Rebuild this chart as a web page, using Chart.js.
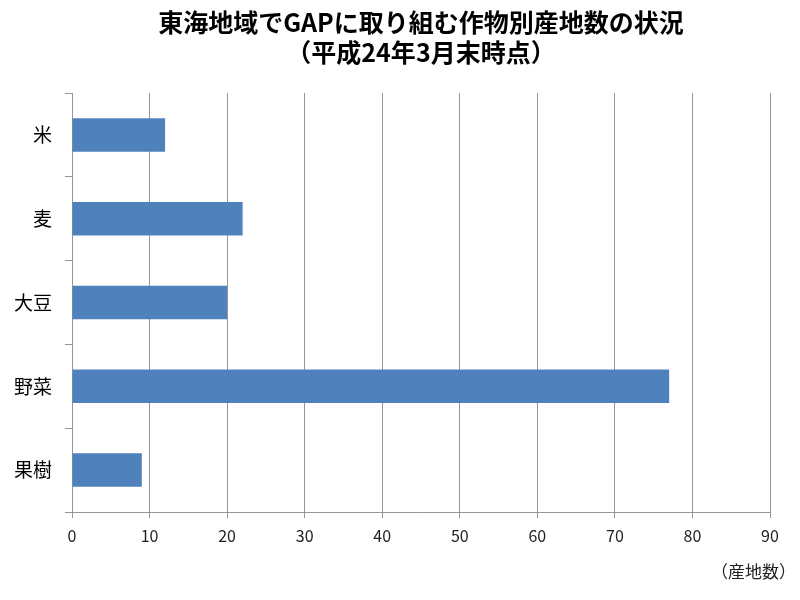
<!DOCTYPE html>
<html>
<head>
<meta charset="utf-8">
<script src="https://cdn.jsdelivr.net/npm/chart.js@4"></script>
<style>
  html, body { margin: 0; padding: 0; background: #fff; }
  #wrap { width: 800px; height: 600px; }
</style>
</head>
<body>
<div id="wrap"><canvas id="gapChart"></canvas></div>
<script>
// 作物別産地数 (平成24年3月末時点)
const crops = ['米', '麦', '大豆', '野菜', '果樹'];
const areaCounts = [12, 22, 20, 77, 9];
const titleLines = ['東海地域でGAPに取り組む作物別産地数の状況', '（平成24年3月末時点）'];
const unitLabel = '（産地数）';

const jpFont = '"Noto Sans CJK JP", "Noto Sans", sans-serif';

// unit label under the x axis, bottom right
const unitPlugin = {
    id: 'unitLabel',
    afterDraw(chart) {
        const c = chart.ctx;
        c.save();
        c.font = '17px ' + jpFont;
        c.fillStyle = '#222';
        c.textAlign = 'right';
        c.textBaseline = 'middle';
        c.fillText(unitLabel, chart.width - 4, 572);
        c.restore();
    }
};

const ctx = document.getElementById('gapChart').getContext('2d');
const gapChart = new Chart(ctx, {
    type: 'bar',
    data: {
        labels: crops,
        datasets: [{
            data: areaCounts,
            backgroundColor: '#4F81BD',
            borderWidth: 0,
            categoryPercentage: 1,
            barPercentage: 0.4
        }]
    },
    options: {
        indexAxis: 'y',
        responsive: true,
        maintainAspectRatio: false,
        animation: false,
        layout: { padding: { left: 0, right: 30, top: 0, bottom: 0 } },
        plugins: {
            legend: { display: false },
            tooltip: { enabled: false },
            title: {
                display: true,
                fullSize: false,
                text: titleLines,
                color: '#000',
                font: { family: jpFont, size: 25, weight: 'bold', lineHeight: 1.2 },
                padding: { top: 7, bottom: 26 }
            }
        },
        scales: {
            x: {
                min: 0, max: 90,
                ticks: {
                    stepSize: 10,
                    color: '#222',
                    padding: 8,
                    font: { family: jpFont, size: 16 }
                },
                grid: {
                    color: '#969696',
                    lineWidth: 1,
                    tickLength: 6
                },
                border: { display: true, color: '#969696' },
                afterFit(scale) { scale.height = 88; }
            },
            y: {
                ticks: {
                    color: '#000',
                    padding: 13,
                    font: { family: jpFont, size: 19 }
                },
                grid: {
                    color: '#969696',
                    drawOnChartArea: false,
                    tickLength: 7,
                    offset: true
                },
                border: { display: true, color: '#969696' },
                afterFit(scale) { scale.width = 72; }
            }
        }
    },
    plugins: [unitPlugin]
});
</script>
</body>
</html>
